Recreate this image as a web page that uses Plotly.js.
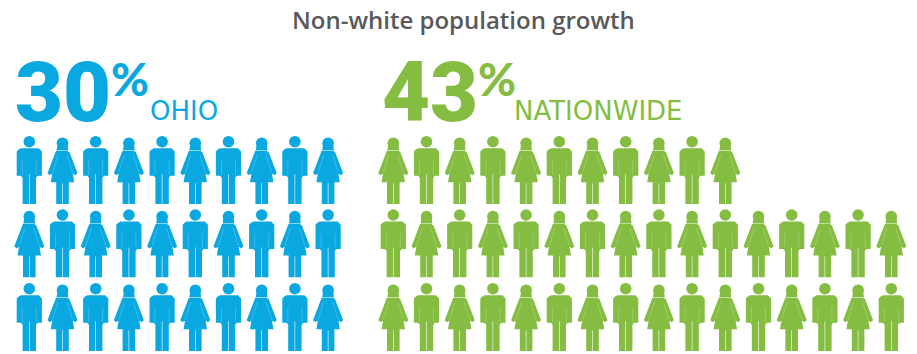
<!DOCTYPE html>
<html>
<head>
<meta charset="utf-8">
<script src="https://cdn.plot.ly/plotly-3.0.1.min.js"></script>
<style>html,body{margin:0;padding:0;background:#fff}#chart{width:917px;height:354px}</style>
</head>
<body>
<div id="chart"></div>
<script>
// Share of non-white population growth; each figure stands for one percentage point.
const chartTitle = "Non-white population growth";
const regions = ["OHIO", "NATIONWIDE"];
const growthPercent = [30, 43];
const peoplePerRow = [[10, 10, 10], [11, 16, 16]];
const firstFigureInRow = [["man", "woman", "man"], ["woman", "man", "woman"]];
const regionColors = ["#0aa8e1", "#84bd41"];

// Grid of the figures, in the pixel-sized units of the two axes.
const columnStart = [29.3, 393.3];
const columnStep = 33.2;
const rowTops = [136, 209.3, 283];

// Outlines of one figure, relative to its centre line and the top of a man's head.
// They are stroked with a wide round-joined line, which rounds hands, feet and shoulders.
const manOutline = [[-9,13.5],[9,13.5],[11.4,16],[11.4,38.5],[8.6,38.5],[7.2,39],[5.5,41.5],[5.5,66.8],[1.5,66.8],[1.5,37],[-1.5,37],[-1.5,66.8],[-5.5,66.8],[-5.5,41.5],[-7.2,39],[-8.6,38.5],[-11.4,38.5],[-11.4,16]];
const manSeams = [[[7,24],[7,39]], [[-7,24],[-7,39]]];
const womanOutline = [[5.6,16],[13.6,36.8],[12.6,37.6],[11.2,36.4],[9,37.5],[10.3,45.1],[5.1,45.1],[5.1,66.8],[1.5,66.8],[1.5,46],[-1.5,46],[-1.5,66.8],[-5.1,66.8],[-5.1,45.1],[-10.3,45.1],[-9,37.5],[-11.2,36.4],[-12.6,37.6],[-13.6,36.8],[-5.6,16]];
const womanHair = [[-4,9.5],[4,9.5],[4.5,13],[-4.5,13]];
const womanSeams = [[[4.5,19],[10,36.5]], [[-4.5,19],[-10,36.5]]];
const headDrop = {man: 5.7, woman: 7.2};

// Appends an outline to a pair of coordinate lists, closed when asked to.
function addPath(xs, ys, cx, top, outline, closed) {
  outline.forEach(p => { xs.push(cx + p[0]); ys.push(top + p[1]); });
  if (closed) { xs.push(cx + outline[0][0]); ys.push(top + outline[0][1]); }
  xs.push(null); ys.push(null);
}

const traces = [];
regions.forEach((region, r) => {
  const bodyX = [], bodyY = [], seamX = [], seamY = [], headX = [], headY = [];
  peoplePerRow[r].forEach((count, row) => {
    for (let i = 0; i < count; i++) {
      const cx = columnStart[r] + i * columnStep;
      const top = rowTops[row];
      const isMan = (firstFigureInRow[r][row] === "man") === (i % 2 === 0);
      if (isMan) {
        addPath(bodyX, bodyY, cx, top, manOutline, true);
        manSeams.forEach(s => addPath(seamX, seamY, cx, top, s, false));
      } else {
        addPath(bodyX, bodyY, cx, top, womanOutline, true);
        addPath(bodyX, bodyY, cx, top, womanHair, true);
        womanSeams.forEach(s => addPath(seamX, seamY, cx, top, s, false));
      }
      headX.push(cx);
      headY.push(top + (isMan ? headDrop.man : headDrop.woman));
    }
  });
  traces.push({x: bodyX, y: bodyY, mode: "lines", fill: "toself", fillcolor: regionColors[r],
    line: {color: regionColors[r], width: 2.4}, hoverinfo: "skip", name: region});
  traces.push({x: headX, y: headY, mode: "markers", hoverinfo: "skip", name: region,
    marker: {symbol: "circle", size: 11.6, color: regionColors[r], line: {width: 0}}});
  traces.push({x: seamX, y: seamY, mode: "lines", hoverinfo: "skip", name: region,
    line: {color: "rgba(255,255,255,0.3)", width: 0.7}});
});

const numberX = [13, 380], percentX = [109, 476], regionX = [148, 512];
const annotations = [];
regions.forEach((region, r) => {
  const shared = {xref: "x", yref: "y", xanchor: "left", yanchor: "middle", showarrow: false};
  annotations.push(Object.assign({}, shared, {x: numberX[r], y: 92, text: String(growthPercent[r]),
    font: {family: "Roboto, sans-serif", size: 83, weight: 900, color: regionColors[r]}}));
  annotations.push(Object.assign({}, shared, {x: percentX[r], y: 78, text: "%",
    font: {family: "Lato, sans-serif", size: 46, weight: 900, color: regionColors[r]}}));
  annotations.push(Object.assign({}, shared, {x: regionX[r], y: 111, text: region,
    font: {family: "'DejaVu Sans', sans-serif", size: 26, weight: 400, color: regionColors[r]}}));
});
annotations.push({xref: "x", yref: "y", x: 463, y: 19, xanchor: "center", yanchor: "middle",
  showarrow: false, text: chartTitle,
  font: {family: "'Open Sans', sans-serif", size: 24, weight: 600, color: "#58595b"}});

const hiddenAxis = {visible: false, fixedrange: true, showgrid: false, zeroline: false};
Plotly.newPlot("chart", traces, {
  width: 917, height: 354, margin: {l: 0, r: 0, t: 0, b: 0},
  paper_bgcolor: "#fff", plot_bgcolor: "#fff", showlegend: false,
  xaxis: Object.assign({range: [0, 917]}, hiddenAxis),
  yaxis: Object.assign({range: [354, 0]}, hiddenAxis),
  annotations: annotations
}, {staticPlot: true, displayModeBar: false});
</script>
</body>
</html>
